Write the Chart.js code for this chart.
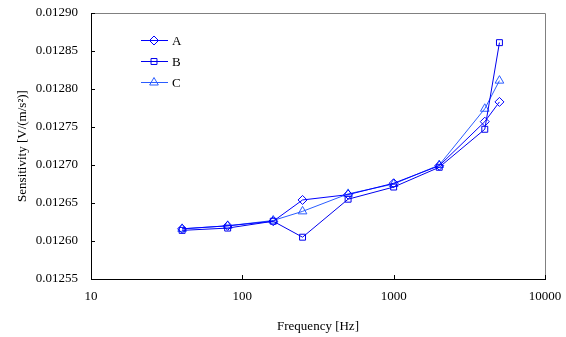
<!DOCTYPE html>
<html>
<head>
<meta charset="utf-8">
<script src="https://cdn.jsdelivr.net/npm/chart.js@4"></script>
<style>
  html, body { margin: 0; padding: 0; background: #fff; }
  #wrap { width: 566px; height: 337px; position: relative; }
</style>
</head>
<body>
<div id="wrap"><canvas id="c" width="566" height="337"></canvas></div>
<script>
const frequencies = [40, 80, 160, 250, 500, 1000, 2000, 4000, 5000];
const seriesA = [0.012616, 0.012620, 0.012626, 0.012654, 0.012661, 0.012676, 0.012699, 0.012757, 0.012783];
const seriesB = [0.012614, 0.012617, 0.012626, 0.012605, 0.012655, 0.012671, 0.012697, 0.012747, 0.012861];
const seriesC = [0.012616, 0.012620, 0.012627, 0.012639, 0.012662, 0.012675, 0.012700, 0.012774, 0.012811];
const xTicks = [10, 100, 1000, 10000];
const yTicks = [0.01255, 0.01260, 0.01265, 0.01270, 0.01275, 0.01280, 0.01285, 0.01290];
const seriesNames = ['A', 'B', 'C'];

const FONT = 'Liberation Serif';

function pts(vals) { return frequencies.map((f, i) => ({x: f, y: vals[i]})); }

const styles = [
  {color: '#0000ff', shape: 'rectRot', r: 4.5},
  {color: '#0000ee', shape: 'rect', r: 4.2},
  {color: '#2a5cff', shape: 'triangle', r: 5}
];
const allSeries = [seriesA, seriesB, seriesC];

const datasets = allSeries.map((s, i) => ({
  label: seriesNames[i],
  data: pts(s),
  borderColor: styles[i].color,
  backgroundColor: 'rgba(0,0,0,0)',
  borderWidth: 1,
  pointStyle: styles[i].shape,
  pointRadius: styles[i].r,
  pointBorderColor: styles[i].color,
  pointBackgroundColor: 'rgba(0,0,0,0)',
  pointBorderWidth: 1,
  tension: 0
}));

const framePlugin = {
  id: 'frame',
  afterDraw(chart) {
    const {ctx, chartArea: a, scales: {x, y}} = chart;
    ctx.save();
    ctx.lineWidth = 1;
    ctx.strokeStyle = '#808080';
    ctx.beginPath();
    ctx.moveTo(a.left, a.top + 0.5); ctx.lineTo(a.right + 0.5, a.top + 0.5);
    ctx.lineTo(a.right + 0.5, a.bottom);
    ctx.stroke();
    ctx.strokeStyle = '#000';
    ctx.beginPath();
    ctx.moveTo(a.left + 0.5, a.top); ctx.lineTo(a.left + 0.5, a.bottom + 0.5);
    ctx.lineTo(a.right + 1, a.bottom + 0.5);
    ctx.stroke();
    ctx.beginPath();
    yTicks.forEach(v => {
      const py = Math.round(y.getPixelForValue(v)) + 0.5;
      ctx.moveTo(a.left, py); ctx.lineTo(a.left + 4, py);
    });
    xTicks.forEach(v => {
      const px = Math.round(x.getPixelForValue(v)) + 0.5;
      ctx.moveTo(px, a.bottom); ctx.lineTo(px, a.bottom - 4);
    });
    ctx.stroke();
    // legend
    const lx0 = 141, lx1 = 168, mx = 154, tx = 172;
    const rows = [40, 61, 82];
    chart.data.datasets.forEach((ds, i) => {
      const yy = rows[i] + 0.5;
      ctx.strokeStyle = ds.borderColor;
      ctx.fillStyle = 'rgba(0,0,0,0)';
      ctx.beginPath(); ctx.moveTo(lx0, yy); ctx.lineTo(lx1, yy); ctx.stroke();
      Chart.helpers.drawPoint(ctx, {pointStyle: ds.pointStyle, radius: ds.pointRadius, borderWidth: 1, rotation: 0}, mx, yy);
      ctx.fillStyle = '#000';
      ctx.font = '13px "' + FONT + '"';
      ctx.textBaseline = 'middle';
      ctx.textAlign = 'left';
      ctx.fillText(ds.label, tx, yy + 1);
    });
    ctx.restore();
  }
};

new Chart(document.getElementById('c'), {
  type: 'line',
  data: {datasets},
  options: {
    responsive: false,
    animation: false,
    layout: {padding: {top: 13, right: 21, left: 0, bottom: 0}},
    plugins: {legend: {display: false}, tooltip: {enabled: false}},
    scales: {
      x: {
        type: 'logarithmic',
        min: 10, max: 10000,
        afterBuildTicks(s) { s.ticks = xTicks.map(v => ({value: v})); },
        afterFit(s) { s.height = 58; s.paddingLeft = 0; s.paddingRight = 0; },
        grid: {display: false, drawTicks: false},
        border: {display: false},
        ticks: {
          color: '#000', font: {family: FONT, size: 13}, padding: 10,
          maxRotation: 0, autoSkip: false,
          callback: (v) => String(v)
        },
        title: {display: true, text: 'Frequency [Hz]', color: '#000', font: {family: FONT, size: 13}, padding: {top: 0, bottom: 3}}
      },
      y: {
        type: 'linear',
        min: 0.01255, max: 0.0129,
        afterBuildTicks(s) { s.ticks = yTicks.map(v => ({value: v})); },
        afterFit(s) { s.width = 91; s.paddingTop = 0; s.paddingBottom = 0; },
        grid: {display: false, drawTicks: false},
        border: {display: false},
        ticks: {
          color: '#000', font: {family: FONT, size: 13}, padding: 13,
          callback: (v) => Number(v).toFixed(5)
        },
        title: {display: true, text: 'Sensitivity [V/(m/s²)]', color: '#000', font: {family: FONT, size: 13}, padding: {top: 15, bottom: 0}}
      }
    }
  },
  plugins: [framePlugin]
});
</script>
</body>
</html>
